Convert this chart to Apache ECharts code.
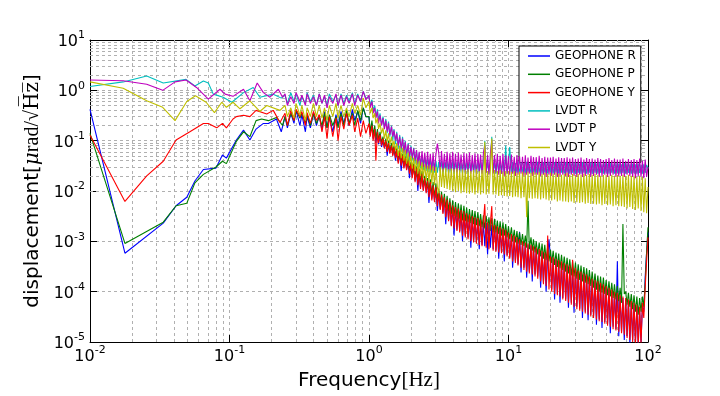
<!DOCTYPE html>
<html>
<head>
<meta charset="utf-8">
<script src="https://cdn.jsdelivr.net/npm/echarts@6/dist/echarts.min.js"></script>
<style>
  html, body { margin: 0; padding: 0; background: #fff; }
  #chart { width: 720px; height: 396px; }
</style>
</head>
<body>
<div id="chart"></div>
<script>
// series names and colours, in legend order
const seriesNames = ['GEOPHONE R', 'GEOPHONE P', 'GEOPHONE Y', 'LVDT R', 'LVDT P', 'LVDT Y'];
const seriesColors = ['#0000ff', '#007f00', '#ff0000', '#00bfbf', '#bf00bf', '#bfbf00'];

// low frequency part (below 0.25 Hz), [Hz, value] pairs read per curve
const lowGeoR = [[0.01,0.42],[0.0178,5.8e-4],[0.0335,2.3e-3],[0.0414,5.1e-3],[0.0494,7.5e-3],[0.0565,0.0158],[0.065,0.0267],[0.08,0.0285],[0.089,0.052],[0.095,0.045],[0.112,0.103],[0.126,0.162],[0.14,0.103],[0.155,0.17],[0.175,0.22],[0.19,0.22],[0.217,0.27],[0.235,0.15]];
const lowGeoP = [[0.01,0.14],[0.0178,9.1e-4],[0.0335,2.4e-3],[0.0414,5.1e-3],[0.0494,5.7e-3],[0.0565,0.0145],[0.065,0.0214],[0.08,0.03],[0.089,0.039],[0.095,0.035],[0.112,0.097],[0.126,0.15],[0.14,0.12],[0.155,0.25],[0.17,0.27],[0.19,0.25],[0.217,0.29],[0.24,0.2]];
const lowGeoY = [[0.01,0.129],[0.0178,0.0062],[0.0255,0.02],[0.0335,0.039],[0.0414,0.103],[0.052,0.15],[0.065,0.219],[0.0705,0.22],[0.081,0.18],[0.089,0.22],[0.095,0.18],[0.106,0.27],[0.112,0.3],[0.126,0.32],[0.14,0.3],[0.155,0.4],[0.185,0.34],[0.206,0.4],[0.23,0.23]];
const lowLvdtR = [[0.01,1.19],[0.0173,1.47],[0.0255,1.92],[0.0335,1.4],[0.0488,1.65],[0.0565,1.22],[0.065,1.53],[0.0705,1.4],[0.0765,0.84],[0.09,0.73],[0.104,0.58],[0.126,0.9],[0.148,1.14],[0.165,0.73],[0.206,0.84],[0.235,0.7]];
const lowLvdtP = [[0.01,1.6],[0.0173,1.55],[0.0255,1.32],[0.0332,1.0],[0.0407,1.47],[0.0488,1.6],[0.058,1.14],[0.0705,0.67],[0.0855,1.05],[0.093,0.84],[0.106,0.76],[0.126,1.05],[0.14,0.62],[0.158,1.4],[0.175,0.9],[0.195,0.73],[0.224,1.05],[0.24,0.73]];
const lowLvdtY = [[0.01,1.47],[0.0173,1.1],[0.0255,0.62],[0.0332,0.46],[0.0407,0.25],[0.0494,0.6],[0.057,0.78],[0.068,0.58],[0.078,0.36],[0.088,0.58],[0.095,0.46],[0.106,0.58],[0.119,0.43],[0.14,0.62],[0.165,0.38],[0.185,0.5],[0.23,0.4]];

// wiggly middle part, 0.25 .. 0.95 Hz
const freqMid = [
  0.25,0.26,0.275,0.29,0.30,0.32,0.33,0.35,0.36,0.38,
  0.40,0.42,0.44,0.46,0.48,0.50,0.52,0.55,0.58,0.60,
  0.63,0.66,0.69,0.72,0.76,0.79,0.83,0.87,0.91,0.95
];
const midGeoR = [
  0.3,0.18,0.35,0.22,0.4,0.2,0.33,0.15,0.3,0.18,
  0.35,0.2,0.32,0.16,0.38,0.18,0.3,0.15,0.33,0.2,
  0.38,0.22,0.35,0.2,0.42,0.25,0.38,0.22,0.45,0.3
];
const midGeoP = [
  0.3,0.2,0.35,0.25,0.4,0.28,0.35,0.22,0.33,0.2,
  0.35,0.22,0.3,0.2,0.35,0.18,0.33,0.2,0.3,0.18,
  0.35,0.2,0.4,0.22,0.35,0.2,0.4,0.25,0.45,0.3
];
const midGeoY = [
  0.35,0.2,0.4,0.25,0.42,0.3,0.38,0.2,0.36,0.22,
  0.38,0.25,0.33,0.15,0.3,0.11,0.3,0.12,0.28,0.1,
  0.3,0.17,0.35,0.2,0.32,0.15,0.28,0.12,0.25,0.14
];
const midLvdtR = [
  0.8,0.55,0.9,0.6,0.85,0.5,0.75,0.55,0.9,0.6,
  0.8,0.5,0.85,0.55,0.75,0.5,0.85,0.6,0.8,0.5,
  0.85,0.55,0.8,0.6,0.9,0.55,0.85,0.6,0.95,0.7
];
const midLvdtP = [
  0.85,0.5,0.75,0.55,0.9,0.6,0.8,0.5,0.85,0.55,
  0.75,0.5,0.85,0.55,0.8,0.45,0.75,0.55,0.85,0.5,
  0.8,0.5,0.75,0.55,0.85,0.5,0.8,0.6,0.95,0.65
];
const midLvdtY = [
  0.5,0.3,0.45,0.28,0.55,0.32,0.5,0.25,0.45,0.3,
  0.55,0.3,0.5,0.28,0.45,0.25,0.5,0.3,0.55,0.28,
  0.5,0.3,0.45,0.3,0.55,0.35,0.5,0.32,0.7,0.45
];

// dense noise band, 1 .. 100 Hz
const freqDense = [
  1.00,1.02,1.05,1.07,1.10,1.12,1.15,1.17,1.20,1.23,
  1.26,1.29,1.32,1.35,1.38,1.41,1.45,1.48,1.51,1.55,
  1.58,1.62,1.66,1.70,1.74,1.78,1.82,1.86,1.91,1.95,
  2.00,2.04,2.09,2.14,2.19,2.24,2.29,2.34,2.40,2.45,
  2.51,2.57,2.63,2.69,2.75,2.82,2.88,2.95,3.02,3.09,
  3.16,3.24,3.31,3.39,3.47,3.55,3.63,3.72,3.80,3.89,
  3.98,4.07,4.17,4.27,4.37,4.47,4.57,4.68,4.79,4.90,
  5.01,5.13,5.25,5.37,5.50,5.62,5.75,5.89,6.03,6.17,
  6.31,6.46,6.61,6.76,6.92,7.08,7.24,7.41,7.59,7.76,
  7.94,8.13,8.32,8.51,8.71,8.91,9.12,9.33,9.55,9.77,
  10.0,10.2,10.5,10.7,11.0,11.2,11.5,11.7,12.0,12.3,
  12.6,12.9,13.2,13.5,13.8,14.1,14.5,14.8,15.1,15.5,
  15.8,16.2,16.6,17.0,17.4,17.8,18.2,18.6,19.1,19.5,
  20.0,20.4,20.9,21.4,21.9,22.4,22.9,23.4,24.0,24.5,
  25.1,25.7,26.3,26.9,27.5,28.2,28.8,29.5,30.2,30.9,
  31.6,32.4,33.1,33.9,34.7,35.5,36.3,37.2,38.0,38.9,
  39.8,40.7,41.7,42.7,43.7,44.7,45.7,46.8,47.9,49.0,
  50.1,51.3,52.5,53.7,55.0,56.2,57.5,58.9,60.3,61.7,
  63.1,64.6,66.1,67.6,69.2,70.8,72.4,74.1,75.9,77.6,
  79.4,81.3,83.2,85.1,87.1,89.1,91.2,93.3,95.5,97.7,
  100
];
const denseGeoR = [
  0.3,0.13,0.22,0.11,0.17,0.09,0.15,0.085,0.13,0.075,
  0.1,0.072,0.095,0.05,0.085,0.058,0.078,0.052,0.07,0.04,
  0.062,0.037,0.056,0.025,0.048,0.03,0.043,0.027,0.038,0.018,
  0.033,0.019,0.03,0.016,0.027,0.01,0.024,0.012,0.021,0.0105,
  0.017,0.0095,0.0155,0.0058,0.014,0.007,0.0125,0.0062,0.0115,0.004,
  0.009,0.0044,0.008,0.0037,0.0072,0.0022,0.0065,0.0027,0.0058,0.0021,
  0.005,0.0013,0.0046,0.0017,0.0043,0.0016,0.004,0.001,0.0038,0.0013,
  0.0034,0.0012,0.0032,0.00075,0.003,0.001,0.0029,0.00095,0.0027,0.0007,
  0.0025,0.00085,0.0024,0.0008,0.0023,0.00055,0.0022,0.00075,0.0021,0.0007,
  0.002,0.00066,0.0019,0.00045,0.0018,0.00062,0.0017,0.0004,0.0016,0.00053,
  0.0014,0.00048,0.0013,0.0003,0.0012,0.0004,0.0011,0.00035,0.00155,0.00024,
  0.00095,0.0003,0.0009,0.00019,0.00085,0.00025,0.0008,0.00016,0.00075,0.00022,
  0.0007,0.0002,0.00065,0.00012,0.0006,0.00015,0.00056,0.0001,0.00052,0.0011,
  0.00047,0.00011,0.00045,7e-5,0.00042,9e-5,0.0004,6e-5,0.00038,7.5e-5,
  0.00035,7e-5,0.00033,4.8e-5,0.00031,6e-5,0.0003,3.8e-5,0.00028,5e-5,
  0.00025,4.6e-5,0.00024,3e-5,0.00022,4e-5,0.00021,2.7e-5,0.00019,3.5e-5,
  0.00017,3.3e-5,0.00016,2.2e-5,0.00015,2.8e-5,0.00014,1.9e-5,0.00013,2.5e-5,
  0.00012,2.3e-5,0.00011,1.5e-5,0.0001,2e-5,9.5e-5,1.8e-5,0.0004,1.3e-5,
  8e-5,1.6e-5,7.5e-5,1.1e-5,7e-5,1.3e-5,6.5e-5,9e-6,6e-5,1.1e-5,
  5.5e-5,1e-5,5e-5,9e-6,4.5e-5,1e-5,5e-5,4e-5,0.0002,0.0006,
  0.0015
];
const denseGeoP = [
  0.3,0.15,0.25,0.13,0.2,0.11,0.17,0.1,0.15,0.09,
  0.12,0.075,0.11,0.065,0.1,0.06,0.09,0.055,0.08,0.05,
  0.07,0.04,0.065,0.036,0.055,0.032,0.05,0.03,0.045,0.026,
  0.038,0.021,0.035,0.018,0.031,0.016,0.028,0.014,0.025,0.012,
  0.02,0.011,0.018,0.0095,0.017,0.0085,0.015,0.0075,0.014,0.0065,
  0.011,0.0055,0.0098,0.005,0.0088,0.0045,0.008,0.004,0.0072,0.0035,
  0.0065,0.0032,0.006,0.003,0.0057,0.0028,0.0054,0.0026,0.0051,0.0025,
  0.0047,0.0024,0.0044,0.0023,0.0042,0.0022,0.004,0.0021,0.0038,0.002,
  0.0035,0.0019,0.0033,0.0018,0.0032,0.0017,0.003,0.0016,0.0029,0.0015,
  0.0028,0.0015,0.0026,0.0014,0.0025,0.0013,0.0024,0.0013,0.0022,0.0012,
  0.002,0.0011,0.0019,0.001,0.0017,0.00095,0.0016,0.0009,0.0015,0.00085,
  0.0014,0.0008,0.0013,0.00075,0.0064,0.0007,0.0012,0.00065,0.0011,0.0006,
  0.001,0.00055,0.00095,0.0005,0.0009,0.00045,0.00085,0.00042,0.0008,0.0004,
  0.00068,0.00037,0.00065,0.00034,0.0006,0.00031,0.00057,0.00029,0.00054,0.00027,
  0.0005,0.00025,0.00047,0.00023,0.00044,0.00021,0.00041,0.0002,0.00038,0.00018,
  0.00035,0.00017,0.00033,0.00016,0.00031,0.00015,0.00029,0.00014,0.00027,0.00013,
  0.00025,0.00012,0.00023,0.00011,0.00021,0.0001,0.0002,9.5e-5,0.00019,9e-5,
  0.00017,8.5e-5,0.00016,8e-5,0.00015,7.5e-5,0.00014,7e-5,0.00013,6.5e-5,
  0.00012,6e-5,0.0022,9e-5,0.0001,5.5e-5,9.5e-5,5e-5,9e-5,4.5e-5,
  8.5e-5,4e-5,8e-5,3.5e-5,7.5e-5,4e-5,8e-5,5e-5,0.00015,0.0006,
  0.0019
];
const denseGeoY = [
  0.22,0.12,0.2,0.1,0.17,0.04,0.15,0.09,0.13,0.08,
  0.11,0.07,0.1,0.06,0.09,0.055,0.08,0.05,0.075,0.045,
  0.065,0.035,0.06,0.032,0.05,0.028,0.045,0.026,0.04,0.022,
  0.035,0.018,0.032,0.015,0.028,0.013,0.025,0.011,0.022,0.01,
  0.018,0.009,0.016,0.0075,0.015,0.0065,0.013,0.006,0.012,0.005,
  0.0095,0.0042,0.0085,0.0035,0.0075,0.003,0.0068,0.0025,0.006,0.002,
  0.0052,0.0018,0.0048,0.0016,0.0045,0.0015,0.0042,0.0013,0.004,0.0012,
  0.0036,0.0011,0.0034,0.001,0.0032,0.00095,0.003,0.0009,0.0029,0.00085,
  0.0027,0.0008,0.0025,0.0055,0.00075,0.0024,0.0007,0.0023,0.005,0.00065,
  0.0021,0.00062,0.002,0.0006,0.0019,0.00058,0.0018,0.00055,0.0017,0.0005,
  0.0015,0.00045,0.0014,0.0004,0.0013,0.00037,0.0012,0.00033,0.0011,0.0003,
  0.001,0.00027,0.00095,0.00025,0.0009,0.00023,0.00085,0.00022,0.0008,0.0002,
  0.00075,0.00018,0.0007,0.00016,0.00065,0.00014,0.0006,0.00013,0.0013,0.00011,
  0.0005,0.0001,0.00048,9e-5,0.00045,8.5e-5,0.00042,8e-5,0.0004,7e-5,
  0.00037,6.5e-5,0.00035,6e-5,0.00033,5.5e-5,0.00043,5e-5,0.0003,4.5e-5,
  0.00026,4.2e-5,0.00025,4e-5,0.00023,3.7e-5,0.00022,3.5e-5,0.0002,3.2e-5,
  0.00018,3e-5,0.00017,2.8e-5,0.00016,2.6e-5,0.00015,2.5e-5,0.00014,2.3e-5,
  0.00013,2.1e-5,0.00012,2e-5,0.00011,1.8e-5,0.0001,1.7e-5,9.5e-5,1.6e-5,
  8.5e-5,1.5e-5,8e-5,1.4e-5,7.5e-5,1.2e-5,7e-5,1.1e-5,6.5e-5,1e-5,
  6e-5,9e-6,5.5e-5,8e-6,5e-5,9e-6,6e-5,3e-5,0.00012,0.0004,
  0.0012
];
const denseLvdtR = [
  0.75,0.5,0.65,0.4,0.5,0.3,0.42,0.25,0.35,0.2,
  0.3,0.18,0.27,0.14,0.24,0.12,0.2,0.1,0.17,0.085,
  0.15,0.07,0.13,0.06,0.12,0.052,0.1,0.045,0.09,0.04,
  0.08,0.04,0.072,0.035,0.065,0.03,0.058,0.028,0.052,0.026,
  0.048,0.025,0.045,0.024,0.043,0.023,0.042,0.023,0.04,0.023,
  0.038,0.023,0.04,0.022,0.037,0.024,0.039,0.022,0.038,0.023,
  0.04,0.022,0.037,0.024,0.039,0.023,0.036,0.022,0.04,0.023,
  0.037,0.022,0.039,0.024,0.036,0.023,0.038,0.022,0.04,0.023,
  0.038,0.022,0.037,0.1,0.023,0.039,0.022,0.038,0.12,0.023,
  0.037,0.022,0.039,0.023,0.036,0.022,0.038,0.023,0.08,0.022,
  0.037,0.075,0.023,0.038,0.022,0.036,0.023,0.039,0.022,0.037,
  0.023,0.036,0.022,0.038,0.023,0.035,0.022,0.037,0.023,0.036,
  0.022,0.038,0.023,0.035,0.022,0.037,0.023,0.036,0.022,0.038,
  0.023,0.035,0.022,0.037,0.023,0.036,0.022,0.038,0.023,0.035,
  0.022,0.037,0.023,0.036,0.022,0.035,0.023,0.037,0.022,0.036,
  0.023,0.035,0.022,0.037,0.023,0.036,0.022,0.035,0.023,0.037,
  0.022,0.036,0.023,0.035,0.022,0.037,0.023,0.034,0.022,0.036,
  0.023,0.035,0.022,0.036,0.023,0.034,0.022,0.036,0.023,0.035,
  0.022,0.034,0.023,0.036,0.022,0.035,0.023,0.034,0.022,0.035,
  0.023,0.034,0.022,0.035,0.023,0.033,0.022,0.034,0.023,0.033,
  0.028
];
const denseLvdtP = [
  0.8,0.45,0.6,0.35,0.45,0.28,0.38,0.22,0.32,0.2,
  0.28,0.17,0.25,0.15,0.22,0.13,0.19,0.12,0.16,0.1,
  0.14,0.08,0.12,0.07,0.11,0.06,0.095,0.055,0.085,0.048,
  0.075,0.045,0.07,0.04,0.065,0.035,0.06,0.032,0.062,0.03,
  0.058,0.028,0.06,0.027,0.055,0.026,0.057,0.025,0.054,0.088,
  0.058,0.025,0.062,0.024,0.055,0.026,0.06,0.023,0.056,0.025,
  0.06,0.024,0.055,0.022,0.058,0.025,0.053,0.023,0.057,0.022,
  0.055,0.024,0.058,0.022,0.052,0.023,0.056,0.021,0.054,0.024,
  0.053,0.022,0.057,0.08,0.023,0.052,0.021,0.055,0.1,0.022,
  0.052,0.023,0.055,0.021,0.05,0.022,0.054,0.02,0.051,0.022,
  0.05,0.021,0.053,0.022,0.048,0.02,0.052,0.021,0.049,0.022,
  0.048,0.02,0.051,0.021,0.046,0.022,0.05,0.02,0.047,0.021,
  0.047,0.021,0.05,0.02,0.045,0.021,0.048,0.019,0.046,0.021,
  0.046,0.02,0.048,0.021,0.044,0.019,0.047,0.02,0.045,0.021,
  0.045,0.02,0.047,0.019,0.044,0.021,0.046,0.02,0.043,0.019,
  0.044,0.021,0.046,0.019,0.042,0.02,0.045,0.021,0.043,0.019,
  0.044,0.02,0.042,0.021,0.045,0.019,0.043,0.02,0.041,0.021,
  0.043,0.019,0.045,0.02,0.041,0.021,0.044,0.019,0.042,0.02,
  0.042,0.02,0.044,0.019,0.04,0.021,0.043,0.02,0.041,0.019,
  0.043,0.018,0.041,0.02,0.044,0.019,0.04,0.018,0.042,0.019,
  0.03
];
const denseLvdtY = [
  0.6,0.35,0.45,0.28,0.35,0.22,0.28,0.17,0.22,0.14,
  0.18,0.11,0.16,0.095,0.14,0.085,0.12,0.075,0.1,0.065,
  0.09,0.05,0.08,0.045,0.072,0.04,0.065,0.035,0.058,0.032,
  0.05,0.028,0.046,0.025,0.042,0.022,0.04,0.02,0.037,0.018,
  0.034,0.016,0.032,0.015,0.033,0.014,0.031,0.013,0.03,0.012,
  0.009,0.03,0.012,0.028,0.0115,0.029,0.011,0.027,0.0105,0.028,
  0.01,0.027,0.0095,0.028,0.01,0.026,0.009,0.027,0.0095,0.026,
  0.009,0.027,0.0088,0.025,0.0092,0.026,0.0085,0.027,0.009,0.025,
  0.0085,0.026,0.009,0.095,0.0085,0.025,0.0088,0.026,0.11,0.0085,
  0.026,0.0085,0.025,0.008,0.026,0.0082,0.024,0.008,0.025,0.0078,
  0.025,0.008,0.024,0.0075,0.025,0.0078,0.023,0.0075,0.024,0.0072,
  0.024,0.0075,0.023,0.003,0.024,0.0072,0.023,0.007,0.024,0.0072,
  0.023,0.007,0.024,0.0068,0.022,0.0072,0.023,0.0068,0.022,0.0065,
  0.023,0.0065,0.022,0.0068,0.023,0.0062,0.022,0.0065,0.021,0.0062,
  0.022,0.0062,0.023,0.006,0.021,0.0062,0.022,0.0058,0.021,0.006,
  0.022,0.0058,0.021,0.006,0.022,0.0056,0.021,0.0058,0.022,0.0055,
  0.021,0.0056,0.022,0.0054,0.021,0.0056,0.02,0.0052,0.021,0.0055,
  0.021,0.0052,0.02,0.0054,0.021,0.005,0.02,0.0052,0.021,0.005,
  0.02,0.005,0.021,0.0048,0.02,0.0045,0.021,0.0048,0.02,0.0044,
  0.02,0.0042,0.019,0.0045,0.02,0.004,0.019,0.0038,0.018,0.0036,
  0.012
];

// minor grid positions (2..9 times each decade)
const mantissas = [2, 3, 4, 5, 6, 7, 8, 9];
const decadesX = [0.01, 0.1, 1, 10];
const decadesY = [1e-5, 1e-4, 1e-3, 1e-2, 1e-1, 1];

const lowParts = [lowGeoR, lowGeoP, lowGeoY, lowLvdtR, lowLvdtP, lowLvdtY];
const midParts = [midGeoR, midGeoP, midGeoY, midLvdtR, midLvdtP, midLvdtY];
const denseParts = [denseGeoR, denseGeoP, denseGeoY, denseLvdtR, denseLvdtP, denseLvdtY];

const chart = echarts.init(document.getElementById('chart'));

const gridLine = { color: '#b0b0b0', type: [3, 3], width: 1 };
const minorX = [], minorY = [];
decadesX.forEach(d => mantissas.forEach(m => minorX.push(+(d * m).toPrecision(3))));
decadesY.forEach(d => mantissas.forEach(m => minorY.push(+(d * m).toPrecision(3))));

function powLabel(value) {
    const e = Math.round(Math.log10(value));
    return '{b|10}{s|' + e + '}';
}
const tickRich = {
    b: { fontSize: 16, fontFamily: 'DejaVu Sans', color: '#000', lineHeight: 20, verticalAlign: 'bottom' },
    s: { fontSize: 11, fontFamily: 'DejaVu Sans', color: '#000', lineHeight: 7, verticalAlign: 'top' }
};

const series = [{
    type: 'line',
    name: 'minor-grid',
    data: [],
    silent: true,
    z: 1,
    markLine: {
        silent: true,
        symbol: 'none',
        z: 1,
        animation: false,
        label: { show: false },
        lineStyle: gridLine,
        emphasis: { disabled: true },
        data: minorX.map(v => ({ xAxis: v })).concat(minorY.map(v => ({ yAxis: v })))
    }
}];

seriesNames.forEach((name, k) => {
    const pts = lowParts[k]
        .concat(freqMid.map((f, i) => [f, midParts[k][i]]))
        .concat(freqDense.map((f, i) => [f, denseParts[k][i]]));
    series.push({
        name: name,
        type: 'line',
        data: pts,
        showSymbol: false,
        symbol: 'none',
        z: 2 + k,
        color: seriesColors[k],
        lineStyle: { width: 1.1, color: seriesColors[k] },
        emphasis: { disabled: true },
        animation: false
    });
});

const option = {
    animation: false,
    grid: { left: 90, right: 72, top: 40, bottom: 49, show: false },
    legend: {
        data: seriesNames,
        orient: 'vertical',
        left: 519,
        top: 46,
        icon: 'rect',
        itemWidth: 22,
        itemHeight: 1.5,
        itemGap: 4.3,
        padding: [3, 5, 8, 9],
        backgroundColor: '#fff',
        borderColor: '#000',
        borderWidth: 1,
        borderRadius: 0,
        selectedMode: false,
        textStyle: { fontSize: 12, fontFamily: 'DejaVu Sans', color: '#000', lineHeight: 14 }
    },
    xAxis: [{
        type: 'log',
        logBase: 10,
        min: 0.01,
        max: 100,
        splitNumber: 4,
        position: 'bottom',
        axisLine: { show: true, onZero: false, lineStyle: { color: '#000', width: 1 } },
        axisTick: { inside: true, length: 7, lineStyle: { color: '#000' } },
        axisLabel: { margin: 3, formatter: powLabel, rich: tickRich },
        splitLine: { show: true, lineStyle: gridLine },
        name: '{a|Frequency}{b|[Hz]}',
        nameLocation: 'middle',
        nameGap: 28,
        nameTextStyle: {
            rich: {
                a: { fontSize: 20, fontFamily: 'DejaVu Sans', color: '#000' },
                b: { fontSize: 21, fontFamily: 'Liberation Serif', color: '#000' }
            }
        }
    }, {
        type: 'log',
        logBase: 10,
        min: 0.01,
        max: 100,
        splitNumber: 4,
        position: 'top',
        axisLine: { show: true, onZero: false, lineStyle: { color: '#000', width: 1 } },
        axisTick: { inside: true, length: 7, lineStyle: { color: '#000' } },
        axisLabel: { show: false },
        splitLine: { show: false }
    }],
    yAxis: [{
        type: 'log',
        logBase: 10,
        min: 1e-5,
        max: 10,
        splitNumber: 6,
        position: 'left',
        axisLine: { show: true, onZero: false, lineStyle: { color: '#000', width: 1 } },
        axisTick: { inside: true, length: 7, lineStyle: { color: '#000' } },
        axisLabel: { margin: 5, formatter: powLabel, rich: tickRich },
        splitLine: { show: true, lineStyle: gridLine },
        name: '{a|displacement[}{m|\u03bc}{r|rad/\u221a}{h|H\u0305z\u0305}{a|]}',
        nameLocation: 'middle',
        nameGap: 44,
        nameTextStyle: {
            rich: {
                a: { fontSize: 20, fontFamily: 'DejaVu Sans', color: '#000' },
                m: { fontSize: 20, fontFamily: 'DejaVu Serif', fontStyle: 'italic', color: '#000' },
                r: { fontSize: 20, fontFamily: 'Liberation Serif', color: '#000' },
                h: { fontSize: 20, fontFamily: 'DejaVu Serif', color: '#000' }
            }
        }
    }, {
        type: 'log',
        logBase: 10,
        min: 1e-5,
        max: 10,
        splitNumber: 6,
        position: 'right',
        axisLine: { show: true, onZero: false, lineStyle: { color: '#000', width: 1 } },
        axisTick: { inside: true, length: 7, lineStyle: { color: '#000' } },
        axisLabel: { show: false },
        splitLine: { show: false }
    }],
    series: series
};

chart.setOption(option);
</script>
</body>
</html>
